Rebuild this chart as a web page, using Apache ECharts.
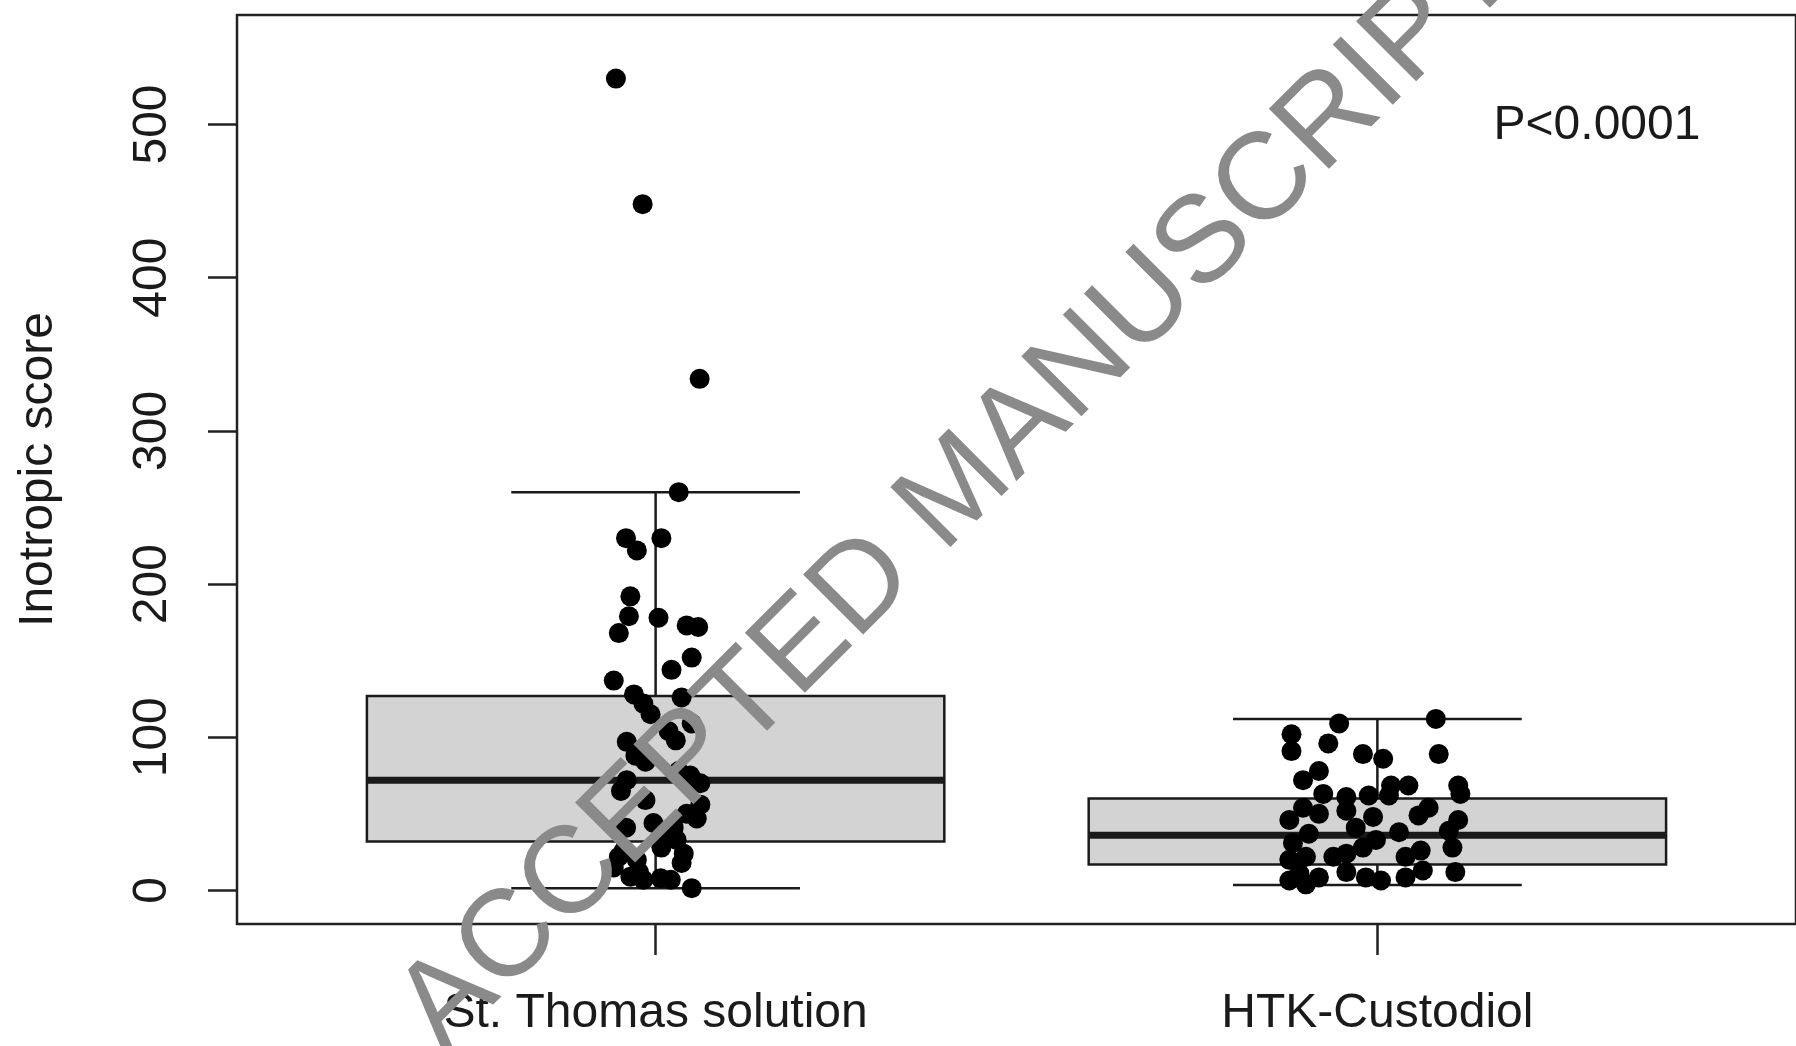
<!DOCTYPE html>
<html>
<head>
<meta charset="utf-8">
<script src="https://cdn.jsdelivr.net/npm/echarts@6/dist/echarts.min.js"></script>
<style>
  html, body { margin: 0; padding: 0; background: #ffffff; }
  #chart { width: 1796px; height: 1046px; }
</style>
</head>
<body>
<div id="chart"></div>
<script>
// ---------------- data ----------------
const categories = ['St. Thomas solution', 'HTK-Custodiol'];
const categoryPositions = [1, 2];
const yTicks = [0, 100, 200, 300, 400, 500];

// box-plot statistics
const whiskerLow  = [1.5, 3.5];
const quartile1   = [32, 17];
const medians     = [72, 36];
const quartile3   = [127, 60];
const whiskerHigh = [260, 112];

// St. Thomas solution: individual (jittered) points
const stThomasValues = [530, 448, 334, 260, 230, 222, 230, 192, 179, 168, 178, 173, 172, 152, 144,
  137, 128, 122, 115, 126, 109, 104, 98, 97, 88, 84, 78, 75, 70, 72, 65, 59, 56, 47, 50, 41, 44,
  41, 33, 24, 18, 26, 15, 20, 9, 7, 8, 7, 1.5, 28, 39, 22, 12];
const stThomasJitter = [-0.055, -0.018, 0.061, 0.032, -0.041, -0.026, 0.008, -0.035, -0.037, -0.051,
  0.004, 0.043, 0.059, 0.050, 0.022, -0.058, -0.030, -0.017, -0.007, 0.036, 0.050, 0.018, 0.028,
  -0.040, -0.028, -0.014, 0.032, 0.048, 0.062, -0.040, -0.048, -0.014, 0.062, 0.057, 0.043, -0.041,
  -0.003, 0.025, 0.029, 0.039, 0.036, -0.044, -0.058, -0.026, -0.035, -0.017, 0.007, 0.021, 0.050,
  0.008, 0.011, -0.051, -0.023];

// HTK-Custodiol: individual (jittered) points
const htkValues = [112, 109, 102, 91, 96, 89, 89, 86, 78, 72, 68.5, 68.5, 68.5, 63, 63, 61, 62, 62,
  52, 54, 50, 48, 54, 49, 46, 46, 39, 41, 38, 37, 31, 28, 26, 33, 28, 24, 22, 22, 22, 20, 12, 13,
  12, 8.5, 6.5, 8.5, 6.5, 4, 8.5, 11];
const htkJitter = [0.081, -0.053, -0.119, -0.119, -0.068, 0.085, -0.020, 0.008, -0.081, -0.103,
  0.019, 0.043, 0.112, 0.115, -0.075, -0.043, -0.012, 0.016, -0.043, -0.103, -0.081, -0.006, 0.071,
  0.057, -0.122, 0.112, 0.099, -0.030, 0.030, -0.095, -0.117, 0.104, 0.060, -0.002, -0.020, -0.043,
  0.039, -0.061, -0.099, -0.122, -0.043, 0.063, 0.108, -0.016, 0.005, 0.039, -0.122, -0.099, -0.081,
  -0.108];

const yTitle = 'Inotropic score';
const pValueText = 'P<0.0001';
const watermarkText = 'ACCEPTED MANUSCRIPT';

// ---------------- chart ----------------
const FONT = "'Liberation Sans', Arial, Helvetica, sans-serif";
const INK = '#1a1a1a';
const BOX_HALF = 0.4;
const CAP_HALF = 0.2;

const boxData = categoryPositions.map((c, i) =>
  [c, whiskerLow[i], quartile1[i], medians[i], quartile3[i], whiskerHigh[i]]);

function renderBox(params, api) {
  const c = api.value(0);
  const mn = api.value(1), q1 = api.value(2), md = api.value(3), q3 = api.value(4), mx = api.value(5);
  const lineStyle = { stroke: INK, lineWidth: 2.5, fill: null };
  const seg = (a, b, w) => ({
    type: 'line',
    shape: { x1: a[0], y1: a[1], x2: b[0], y2: b[1] },
    style: Object.assign({}, lineStyle, w ? { lineWidth: w } : {})
  });
  const tl = api.coord([c - BOX_HALF, q3]);
  const br = api.coord([c + BOX_HALF, q1]);
  return {
    type: 'group',
    children: [
      seg(api.coord([c, q3]), api.coord([c, mx])),
      seg(api.coord([c, q1]), api.coord([c, mn])),
      seg(api.coord([c - CAP_HALF, mx]), api.coord([c + CAP_HALF, mx])),
      seg(api.coord([c - CAP_HALF, mn]), api.coord([c + CAP_HALF, mn])),
      {
        type: 'rect',
        shape: { x: tl[0], y: tl[1], width: br[0] - tl[0], height: br[1] - tl[1] },
        style: { fill: '#d3d3d3', stroke: INK, lineWidth: 2.5 }
      },
      seg(api.coord([c - BOX_HALF, md]), api.coord([c + BOX_HALF, md]), 7)
    ]
  };
}

const chart = echarts.init(document.getElementById('chart'), null, { renderer: 'canvas' });
chart.setOption({
  animation: false,
  backgroundColor: '#ffffff',
  grid: {
    left: 237, top: 15, width: 1565, height: 909,
    show: true, borderColor: '#222222', borderWidth: 2.5, backgroundColor: 'transparent'
  },
  xAxis: {
    type: 'value',
    min: 0.42, max: 2.58,
    axisLine: { show: false, onZero: false },
    splitLine: { show: false },
    axisTick: { show: true, inside: false, length: 31, customValues: categoryPositions,
      lineStyle: { color: '#222222', width: 2.5 } },
    axisLabel: {
      show: true, customValues: categoryPositions, margin: 66,
      fontSize: 48, fontFamily: FONT, color: INK,
      formatter: v => categories[categoryPositions.indexOf(Math.round(v))] || ''
    }
  },
  yAxis: {
    type: 'value',
    min: -21.9, max: 571.5,
    name: yTitle,
    nameLocation: 'middle',
    nameRotate: 90,
    nameGap: 174,
    nameTextStyle: { fontSize: 48, fontFamily: FONT, color: INK },
    axisLine: { show: false, onZero: false },
    splitLine: { show: false },
    axisTick: { show: true, inside: false, length: 29, customValues: yTicks,
      lineStyle: { color: '#222222', width: 2.5 } },
    axisLabel: {
      show: true, customValues: yTicks, rotate: 90, margin: 60,
      fontSize: 48, fontFamily: FONT, color: INK
    }
  },
  series: [
    {
      type: 'custom',
      name: 'box',
      renderItem: renderBox,
      data: boxData,
      encode: { x: 0, y: [1, 2, 3, 4, 5] },
      z: 2,
      silent: true
    },
    {
      type: 'scatter',
      name: categories[0],
      data: stThomasValues.map((v, i) => [categoryPositions[0] + stThomasJitter[i], v]),
      symbol: 'circle', symbolSize: 20,
      itemStyle: { color: '#000000', opacity: 1 },
      z: 3, silent: true
    },
    {
      type: 'scatter',
      name: categories[1],
      data: htkValues.map((v, i) => [categoryPositions[1] + htkJitter[i], v]),
      symbol: 'circle', symbolSize: 20,
      itemStyle: { color: '#000000', opacity: 1 },
      z: 3, silent: true
    }
  ],
  graphic: [
    {
      type: 'text',
      x: 1597, y: 126,
      style: {
        text: pValueText, fontSize: 48, fontFamily: FONT, fill: INK,
        align: 'center', verticalAlign: 'middle'
      },
      z: 10
    },
    {
      type: 'text',
      x: 958, y: 491.5,
      rotation: Math.PI / 4,
      style: {
        text: watermarkText, fontSize: 123.5, fontFamily: FONT, fill: '#8a8a8a',
        align: 'center', verticalAlign: 'middle'
      },
      z: 100
    }
  ]
});
</script>
</body>
</html>
